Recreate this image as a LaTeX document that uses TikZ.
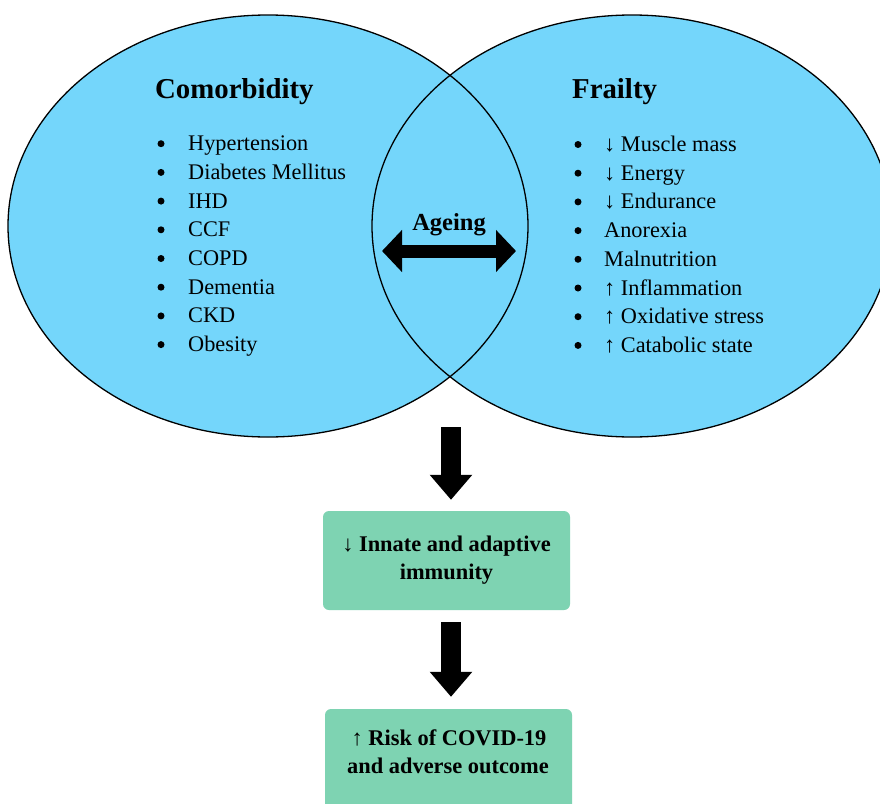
\documentclass[tikz,border=0pt]{standalone}
\usepackage{fontspec}
\setmainfont{Liberation Serif}
\usetikzlibrary{shapes.geometric,arrows.meta}
\definecolor{vennblue}{RGB}{116,214,251}
\definecolor{boxgreen}{RGB}{126,211,178}
\tikzset{
  venn/.style={ellipse, draw=black, line width=1.3pt, fill=vennblue, inner sep=0pt, minimum width=520pt, minimum height=422pt},
  ttl/.style={anchor=base west, inner sep=0pt, font=\fontsize{28.8}{32}\selectfont\bfseries},
  itm/.style={anchor=base west, inner sep=0pt, font=\fontsize{22.3}{26}\selectfont},
  blt/.style={circle, fill=black, inner sep=0pt, minimum size=7pt},
  flowbox/.style={draw=none, fill=boxgreen, rounded corners=6pt, minimum width=247pt, inner sep=0pt, align=center, font=\fontsize{22.4}{28}\selectfont\bfseries},
  blockarrow/.style={line width=20pt, -{Triangle[width=41pt,length=25pt]}},
  dblarrow/.style={line width=13pt, {Triangle[width=41pt,length=20pt]}-{Triangle[width=41pt,length=20pt]}}
}
\begin{document}
\begin{tikzpicture}[x=1pt,y=-1pt]
\useasboundingbox (0,0) rectangle (880,803);
\clip (0,0) rectangle (880,803);
\fill[white] (0,0) rectangle (880,803);
% ellipses: fill both, then outlines
\node[venn, draw=none] (left) at (268,226) {};
\node[venn, draw=none] (right) at (632,226) {};
\node[venn, fill=none] at (268,226) {};
\node[venn, fill=none] at (632,226) {};
% titles
\node[ttl] (tcom) at (155,98) {Comorbidity};
\node[ttl] (tfra) at (572,98) {Frailty};
% comorbidity list
\foreach \t [count=\i] in {Hypertension,Diabetes Mellitus,IHD,CCF,COPD,Dementia,CKD,Obesity}{
  \node[blt] (cb\i) at (161,{150.7+28.7*(\i-1)-7}) {};
  \node[itm] (ci\i) at (188,{150.7+28.7*(\i-1)}) {\t};
}
% frailty list
\foreach \t [count=\i] in {↓ Muscle mass,↓ Energy,↓ Endurance,Anorexia,Malnutrition,↑ Inflammation,↑ Oxidative stress,↑ Catabolic state}{
  \node[blt] (fb\i) at (578,{151.5+28.7*(\i-1)-7}) {};
  \node[itm] (fi\i) at (604,{151.5+28.7*(\i-1)}) {\t};
}
% ageing
\node[anchor=base, inner sep=0pt, font=\fontsize{24.5}{28}\selectfont\bfseries] (age) at (449,230) {Ageing};
\coordinate (al) at (382,251);
\coordinate (ar) at (516,251);
\draw[dblarrow] (al) -- (ar);
% flow boxes
\node[flowbox, minimum height=99pt] (b1) at (446.5,560.5) {↓ Innate and adaptive\\immunity};
\node[flowbox, minimum height=110pt] (b2) at (448.5,764) {};
\node[anchor=base, inner sep=0pt, font=\fontsize{22.4}{28}\selectfont\bfseries] (b2a) at (449,745) {↑ Risk of COVID-19};
\node[anchor=base, inner sep=0pt, font=\fontsize{22.4}{28}\selectfont\bfseries] (b2b) at (448,773) {and adverse outcome};
% down arrows
\coordinate (a1) at (451,427);
\draw[blockarrow, shorten >=11pt] (a1) -- (b1.north -| a1);
\draw[blockarrow, shorten <=12pt, shorten >=12pt] (b1.south -| a1) -- (b2.north -| a1);
\end{tikzpicture}
\end{document}
